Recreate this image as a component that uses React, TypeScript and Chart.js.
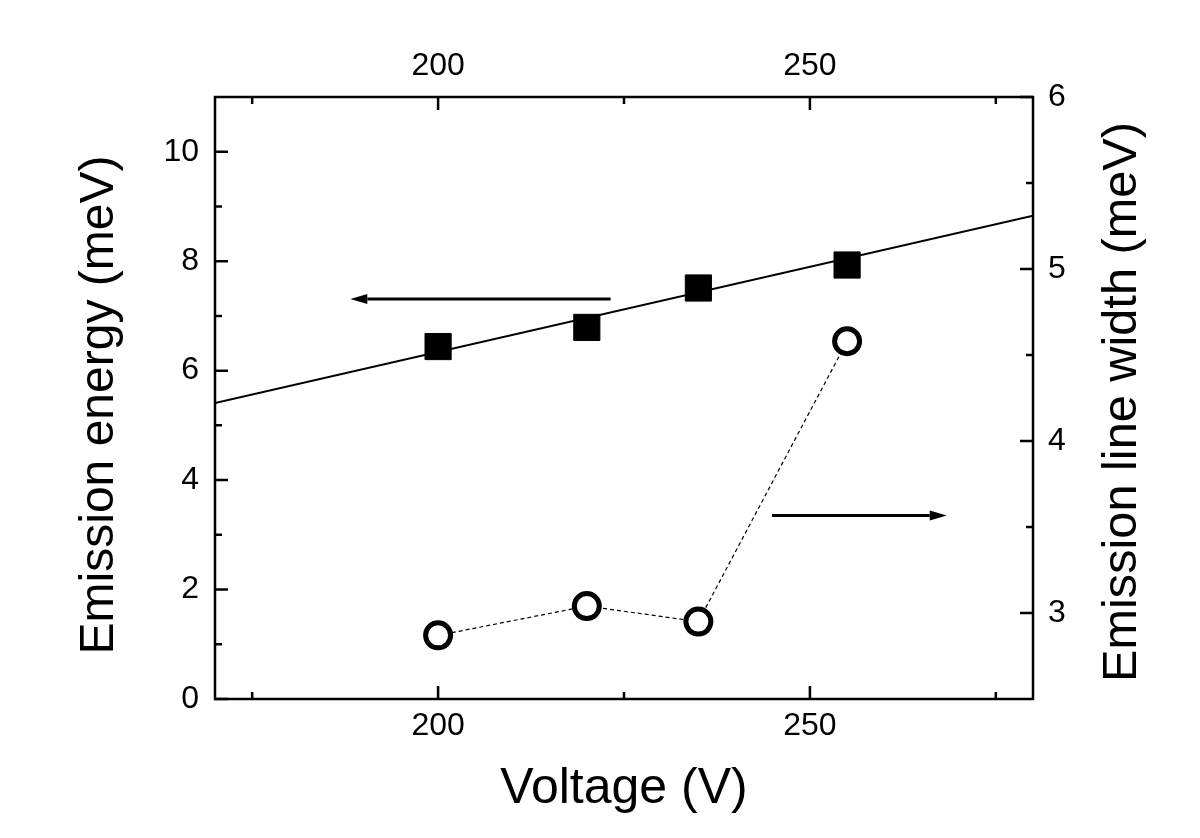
import React, { useEffect, useRef } from "react";
import { Chart, registerables } from "chart.js";

Chart.register(...registerables);

// ---- data ----
const voltage = [200, 220, 235, 255];
const emissionEnergy = [6.44, 6.79, 7.51, 7.93];
const emissionLineWidth = [2.87, 3.04, 2.95, 4.58];
const fitVoltage = [170, 280];
const fitEnergy = [5.41, 8.83];

// arrows in data units (voltage, emission energy)
const arrowLeftFrom = [223.2, 7.31];
const arrowLeftTo = [188.2, 7.31];
const arrowRightFrom = [244.9, 3.355];
const arrowRightTo = [268.4, 3.355];

// ticks
const xMajorTicks = [200, 250];
const xMinorTicks = [175, 225, 275];
const yMajorTicks = [0, 2, 4, 6, 8, 10];
const yMinorTicks = [1, 3, 5, 7, 9];
const y2MajorTicks = [3, 4, 5, 6];
const y2MinorTicks = [3.5, 4.5, 5.5];

const xTitle = "Voltage (V)";
const yTitle = "Emission energy (meV)";
const y2Title = "Emission line width (meV)";

const FONT = "'Liberation Sans', Arial, sans-serif";

const framePlugin = {
  id: "frame",
  afterDraw(chart: any) {
    const { ctx, chartArea } = chart;
    const { left, right, top, bottom } = chartArea;
    const sx = chart.scales.x;
    const sy = chart.scales.y;
    const sy2 = chart.scales.y2;
    ctx.save();
    ctx.strokeStyle = "#000";
    ctx.lineWidth = 2.5;
    ctx.lineCap = "butt";
    // box
    ctx.strokeRect(left, top, right - left, bottom - top);
    const MAJ = 13;
    const MIN = 7;
    ctx.beginPath();
    const xt = (v: number, len: number) => {
      const p = sx.getPixelForValue(v);
      ctx.moveTo(p, bottom);
      ctx.lineTo(p, bottom - len);
      ctx.moveTo(p, top);
      ctx.lineTo(p, top + len);
    };
    xMajorTicks.forEach((v) => xt(v, MAJ));
    xMinorTicks.forEach((v) => xt(v, MIN));
    const yt = (v: number, len: number) => {
      const p = sy.getPixelForValue(v);
      ctx.moveTo(left, p);
      ctx.lineTo(left + len, p);
    };
    yMajorTicks.forEach((v) => yt(v, MAJ));
    yMinorTicks.forEach((v) => yt(v, MIN));
    const y2t = (v: number, len: number) => {
      const p = sy2.getPixelForValue(v);
      ctx.moveTo(right, p);
      ctx.lineTo(right - len, p);
    };
    y2MajorTicks.forEach((v) => y2t(v, MAJ));
    y2MinorTicks.forEach((v) => y2t(v, MIN));
    ctx.stroke();

    // arrows
    const arrow = (from: number[], to: number[]) => {
      const x1 = sx.getPixelForValue(from[0]);
      const y1 = sy.getPixelForValue(from[1]);
      const x2 = sx.getPixelForValue(to[0]);
      const y2 = sy.getPixelForValue(to[1]);
      const ang = Math.atan2(y2 - y1, x2 - x1);
      const headLen = 17;
      const headHalf = 5;
      const bx = x2 - headLen * Math.cos(ang);
      const by = y2 - headLen * Math.sin(ang);
      ctx.lineWidth = 3;
      ctx.beginPath();
      ctx.moveTo(x1, y1);
      ctx.lineTo(bx, by);
      ctx.stroke();
      ctx.beginPath();
      ctx.moveTo(x2, y2);
      ctx.lineTo(bx + headHalf * Math.sin(ang), by - headHalf * Math.cos(ang));
      ctx.lineTo(bx - headHalf * Math.sin(ang), by + headHalf * Math.cos(ang));
      ctx.closePath();
      ctx.fillStyle = "#000";
      ctx.fill();
    };
    arrow(arrowLeftFrom, arrowLeftTo);
    arrow(arrowRightFrom, arrowRightTo);

    // vertical axis titles (read bottom to top)
    const midY = (top + bottom) / 2;
    const vTitle = (text: string, x: number, y: number, size: number) => {
      ctx.save();
      ctx.translate(x, y);
      ctx.rotate(-Math.PI / 2);
      ctx.font = `${size}px ${FONT}`;
      ctx.fillStyle = "#000";
      ctx.textAlign = "center";
      ctx.textBaseline = "middle";
      ctx.fillText(text, 0, 0);
      ctx.restore();
    };
    vTitle(yTitle, left - 115, midY + 7, 48);
    vTitle(y2Title, right + 90, midY + 4, 48.7);
    ctx.restore();
  },
};

export default function App() {
  const ref = useRef<HTMLCanvasElement | null>(null);
  useEffect(() => {
    if (!ref.current) return;
    const tickFont = { family: FONT, size: 32 };
    const titleFont = { family: FONT, size: 50 };
    const chart = new Chart(ref.current, {
      type: "scatter",
      data: {
        datasets: [
          {
            label: "fit",
            data: fitVoltage.map((x, i) => ({ x, y: fitEnergy[i] })),
            showLine: true,
            borderColor: "#000",
            borderWidth: 2,
            pointRadius: 0,
            yAxisID: "y",
            order: 3,
          },
          {
            label: "energy",
            data: voltage.map((x, i) => ({ x, y: emissionEnergy[i] })),
            pointStyle: "rect",
            pointRadius: 18.5,
            pointBorderWidth: 1,
            pointBackgroundColor: "#000",
            pointBorderColor: "#000",
            yAxisID: "y",
            order: 1,
          },
          {
            label: "linewidth",
            data: voltage.map((x, i) => ({ x, y: emissionLineWidth[i] })),
            showLine: true,
            borderColor: "#000",
            borderWidth: 1.2,
            borderDash: [4, 3],
            pointStyle: "circle",
            pointRadius: 12.5,
            pointBorderWidth: 5,
            pointBackgroundColor: "#fff",
            pointBorderColor: "#000",
            yAxisID: "y2",
            order: 2,
          },
        ],
      },
      options: {
        responsive: false,
        animation: false,
        layout: { padding: 0 },
        plugins: { legend: { display: false }, tooltip: { enabled: false } },
        scales: {
          x: {
            type: "linear",
            position: "bottom",
            min: 170,
            max: 280,
            grid: { display: false, drawTicks: false },
            border: { display: false },
            ticks: { font: tickFont, color: "#000", padding: 8 },
            afterBuildTicks: (s: any) => {
              s.ticks = xMajorTicks.map((v) => ({ value: v }));
            },
            afterFit: (s: any) => {
              s.height = 139;
            },
            title: {
              display: true,
              text: xTitle,
              font: titleFont,
              color: "#000",
              padding: { top: 0, bottom: 19 },
            },
          },
          x2: {
            type: "linear",
            position: "top",
            min: 170,
            max: 280,
            grid: { display: false, drawTicks: false },
            border: { display: false },
            ticks: { font: tickFont, color: "#000", padding: 12 },
            afterBuildTicks: (s: any) => {
              s.ticks = xMajorTicks.map((v) => ({ value: v }));
            },
            afterFit: (s: any) => {
              s.height = 97;
            },
          },
          y: {
            type: "linear",
            position: "left",
            min: 0,
            max: 11,
            grid: { display: false, drawTicks: false },
            border: { display: false },
            ticks: { font: tickFont, color: "#000", padding: 16 },
            afterBuildTicks: (s: any) => {
              s.ticks = yMajorTicks.map((v) => ({ value: v }));
            },
            afterFit: (s: any) => {
              s.width = 215;
            },
          },
          y2: {
            type: "linear",
            position: "right",
            min: 2.5,
            max: 6,
            grid: { display: false, drawTicks: false },
            border: { display: false },
            ticks: { font: tickFont, color: "#000", padding: 15 },
            afterBuildTicks: (s: any) => {
              s.ticks = y2MajorTicks.map((v) => ({ value: v }));
            },
            afterFit: (s: any) => {
              s.width = 167;
            },
          },
        },
      },
      plugins: [framePlugin],
    });
    return () => chart.destroy();
  }, []);
  return (
    <div style={{ position: "fixed", left: 0, top: 0, width: 1200, height: 838, background: "#fff" }}>
      <canvas ref={ref} width={1200} height={838} style={{ display: "block" }} />
    </div>
  );
}
